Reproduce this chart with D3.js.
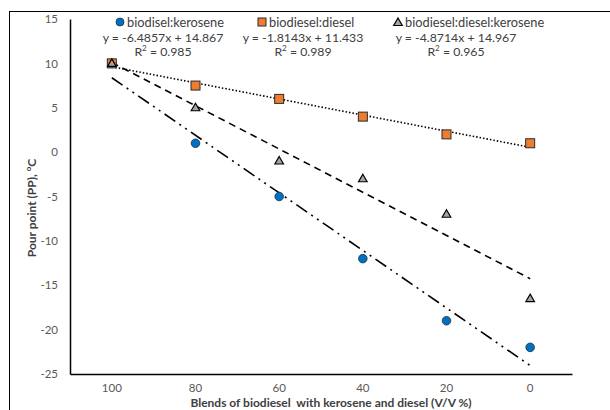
<!DOCTYPE html>
<html><head><meta charset="utf-8">
<script src="https://cdn.jsdelivr.net/npm/d3@7"></script>
<style>body{margin:0;background:#fff}svg{display:block;font-family:Lato,"Open Sans",sans-serif}</style>
</head><body><svg id="c" width="610" height="410"></svg>
<script>
const categories = ["100","80","60","40","20","0"];
const kerosene = [10, 1, -5, -12, -19, -22];
const diesel = [10, 7.5, 6, 4, 2, 1];
const dieselKerosene = [10, 5, -1, -3, -7, -16.5];
const yTicks = [15, 10, 5, 0, -5, -10, -15, -20, -25];
const trendK = {m: -6.4857, b: 14.867, r2: "0.985"};
const trendD = {m: -1.8143, b: 11.433, r2: "0.989"};
const trendDK = {m: -4.8714, b: 14.967, r2: "0.965"};
const names = ["biodisel:kerosene", "biodiesel:diesel", "biodiesel:diesel:kerosene"];

const svg = d3.select("#c");
svg.append("rect").attr("x",9.5).attr("y",11.5).attr("width",640).attr("height",440)
  .attr("fill","none").attr("stroke","#000").attr("stroke-width",1);

const L=70,R=572,T=19,B=374;
const x = d3.scaleBand().domain(categories).range([L,R]);
const y = d3.scaleLinear().domain([-25,15]).range([B,T]);
const cx = i => x(categories[i]) + x.bandwidth()/2;

// axes
const ya = svg.append("g").attr("transform",`translate(${L},0)`)
  .call(d3.axisLeft(y).tickValues(yTicks).tickSize(0).tickPadding(12).tickFormat(d=>String(d)));
ya.select(".domain").attr("stroke","#000").attr("stroke-width",1.5);
ya.selectAll("text").attr("font-size",11.5).attr("fill","#595959").attr("font-family","Lato,sans-serif");
const xa = svg.append("g").attr("transform",`translate(0,${B})`)
  .call(d3.axisBottom(x).tickSize(0).tickPadding(10));
xa.select(".domain").attr("stroke","#000").attr("stroke-width",1.5);
xa.selectAll("text").attr("font-size",11.5).attr("fill","#595959").attr("font-family","Lato,sans-serif");

// titles
svg.append("text").attr("x",331).attr("y",407).attr("text-anchor","middle")
  .attr("font-size",12).attr("font-weight","bold").attr("fill","#404040")
  .text("Blends of biodiesel\u00a0 with kerosene and diesel (V/V %)");
const yt = svg.append("text").attr("transform","translate(36,208) rotate(-90)")
  .attr("text-anchor","middle").attr("font-size",12).attr("font-weight","bold").attr("fill","#404040");
yt.append("tspan").text("Pour point (PP), ");
yt.append("tspan").attr("dy",-5).attr("font-size",8).text("o");
yt.append("tspan").attr("dy",5).text("C");

// trendlines (x = 1..6 index)
function trend(t, dash){
  svg.append("line").attr("x1",cx(0)).attr("x2",cx(5))
    .attr("y1",y(t.m*1+t.b)).attr("y2",y(t.m*6+t.b))
    .attr("stroke","#000").attr("stroke-width",1.6).attr("stroke-dasharray",dash);
}
trend(trendD,"1.5,2");
trend(trendDK,"7,5");
trend(trendK,"13,5,2,5,2,5");

// markers
svg.append("g").selectAll("circle").data(kerosene).join("circle")
  .attr("cx",(d,i)=>cx(i)).attr("cy",d=>y(d)).attr("r",4.3)
  .attr("fill","#0070C0").attr("stroke","#1f3040").attr("stroke-width",0.8);
svg.append("g").selectAll("rect").data(diesel).join("rect")
  .attr("x",(d,i)=>cx(i)-4.5).attr("y",d=>y(d)-4.5).attr("width",9).attr("height",9)
  .attr("fill","#ED7D31").attr("stroke","#2a2a2a").attr("stroke-width",1);
const tri = d3.symbol().type(d3.symbolTriangle).size(32);
svg.append("g").selectAll("path").data(dieselKerosene).join("path")
  .attr("d",tri).attr("transform",(d,i)=>`translate(${cx(i)},${y(d)+0.5})`)
  .attr("fill","#A5A5A5").attr("stroke","#000").attr("stroke-width",1.2);

// legend + equations
const leg = [
  {name:names[0], t:trendK, mx:120, ex:163, shape:"circle"},
  {name:names[1], t:trendD, mx:262, ex:303, shape:"square"},
  {name:names[2], t:trendDK, mx:398, ex:456, shape:"tri"}
];
const fmt = v => v.toString();
leg.forEach(l=>{
  if(l.shape==="circle") svg.append("circle").attr("cx",l.mx).attr("cy",22).attr("r",4)
    .attr("fill","#0070C0").attr("stroke","#1f3040").attr("stroke-width",0.8);
  else if(l.shape==="square") svg.append("rect").attr("x",l.mx-4).attr("y",18).attr("width",8).attr("height",8)
    .attr("fill","#ED7D31").attr("stroke","#2a2a2a");
  else svg.append("path").attr("d",tri).attr("transform",`translate(${l.mx},23)`)
    .attr("fill","#A5A5A5").attr("stroke","#000").attr("stroke-width",1.2);
  svg.append("text").attr("x",l.mx+7).attr("y",26.5).attr("font-size",12.8).attr("fill","#404040").text(l.name);
  svg.append("text").attr("x",l.ex).attr("y",41.5).attr("text-anchor","middle").attr("font-size",12.3).attr("fill","#404040")
    .text(`y = ${fmt(l.t.m)}x + ${fmt(l.t.b)}`);
  const r = svg.append("text").attr("x",l.ex).attr("y",56).attr("text-anchor","middle").attr("font-size",12.3).attr("fill","#404040");
  r.append("tspan").text("R");
  r.append("tspan").attr("dy",-5).attr("font-size",8).text("2");
  r.append("tspan").attr("dy",5).text(" = " + l.t.r2);
});
</script></body></html>
